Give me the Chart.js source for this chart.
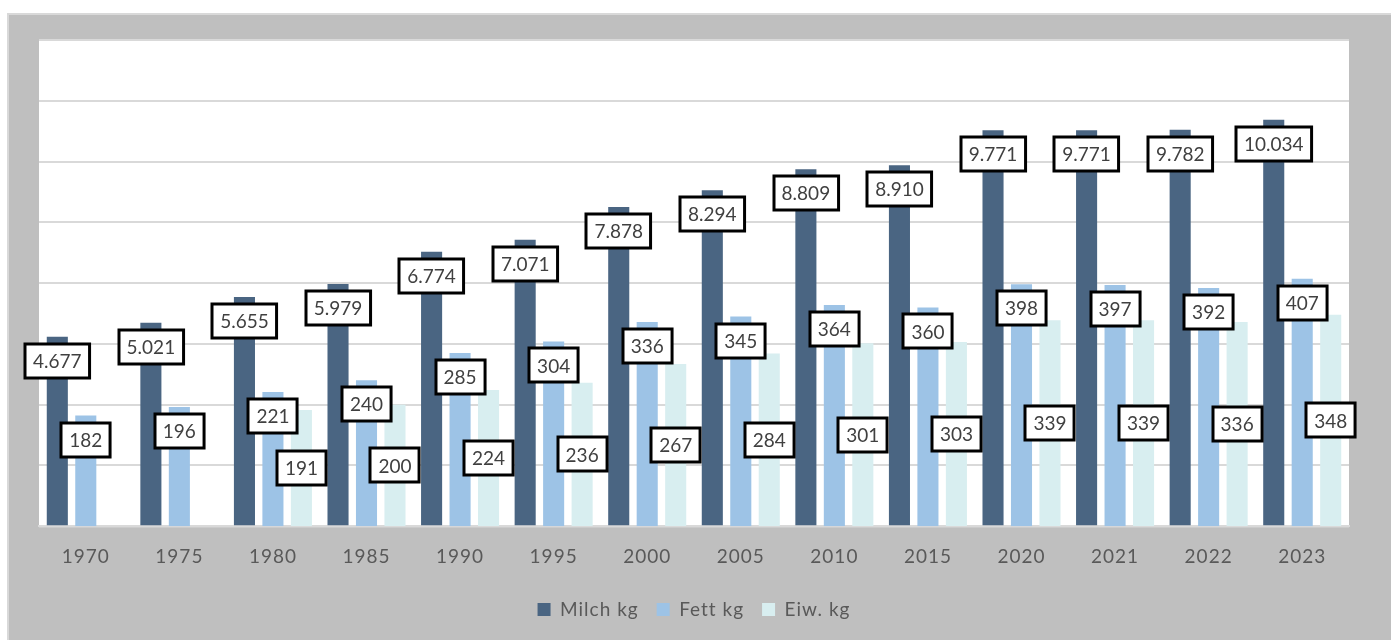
<!DOCTYPE html>
<html lang="de">
<head>
<meta charset="UTF-8">
<title>Milchleistung</title>
<script src="https://cdn.jsdelivr.net/npm/chart.js@4.4.1/dist/chart.umd.min.js"></script>
<style>
  body { margin: 0; background: #fff; }
  #frame {
    position: absolute; left: 7px; top: 13px;
    width: 1382px; height: 625px;
    background: #bfbfbf;
    border-top: 2px solid #d9d9d9;
    border-left: 2px solid #d9d9d9;
  }
</style>
</head>
<body>
<div id="frame"><canvas id="milkChart" width="1382" height="625"></canvas></div>
<script>
// Jahre und Werte je Kuh
const years = ['1970', '1975', '1980', '1985', '1990', '1995', '2000', '2005', '2010', '2015', '2020', '2021', '2022', '2023'];
const milch = [4677, 5021, 5655, 5979, 6774, 7071, 7878, 8294, 8809, 8910, 9771, 9771, 9782, 10034];
const fett = [182, 196, 221, 240, 285, 304, 336, 345, 364, 360, 398, 397, 392, 407];
const eiweiss = [null, null, 191, 200, 224, 236, 267, 284, 301, 303, 339, 339, 336, 348];

// German thousands separator
function fmt(v) {
    return String(v).replace(/\B(?=(\d{3})+(?!\d))/g, '.');
}

// white plot area on the gray frame + a bit of letter spacing for axis/legend text
const plotBackground = {
    id: 'plotBackground',
    beforeUpdate(chart) {
        chart.ctx.letterSpacing = '1px';
    },
    beforeDraw(chart) {
        const { ctx, chartArea } = chart;
        ctx.letterSpacing = '1px';
        ctx.save();
        ctx.fillStyle = '#ffffff';
        ctx.fillRect(chartArea.left, chartArea.top - 1, chartArea.right - chartArea.left, chartArea.bottom - chartArea.top + 2);
        ctx.restore();
    }
};

// boxed data labels, like the Excel ones
const boxLabels = {
    id: 'boxLabels',
    afterDatasetsDraw(chart) {
        const ctx = chart.ctx;
        ctx.save();
        ctx.letterSpacing = '0px';
        ctx.font = '19px Lato';
        ctx.textAlign = 'center';
        ctx.textBaseline = 'middle';
        chart.data.datasets.forEach((ds, i) => {
            const meta = chart.getDatasetMeta(i);
            meta.data.forEach((bar, j) => {
                const v = ds.data[j];
                if (v == null) return;
                const txt = fmt(v);
                const w = ctx.measureText(txt).width + 16;
                const h = 34;
                const cy = ds.labelPos === 'center' ? (bar.y + bar.base) / 2 : bar.y + 7 + h / 2;
                const x0 = Math.round(bar.x - w / 2);
                const y0 = Math.round(cy - h / 2);
                ctx.fillStyle = '#ffffff';
                ctx.fillRect(x0, y0, w, h);
                ctx.lineWidth = 3;
                ctx.strokeStyle = '#000000';
                ctx.strokeRect(x0, y0, w, h);
                ctx.fillStyle = '#404040';
                ctx.fillText(txt, bar.x, cy + 1);
            });
        });
        ctx.restore();
    }
};

const ctx = document.getElementById('milkChart').getContext('2d');
const chart = new Chart(ctx, {
    type: 'bar',
    data: {
        labels: years,
        datasets: [
            { label: 'Milch kg', data: milch, backgroundColor: '#4a6582', yAxisID: 'y', labelPos: 'end' },
            { label: 'Fett kg', data: fett, backgroundColor: '#9dc3e6', yAxisID: 'y1', labelPos: 'end' },
            { label: 'Eiw. kg', data: eiweiss, backgroundColor: '#d8eef0', yAxisID: 'y1', labelPos: 'center' }
        ]
    },
    options: {
        responsive: false,
        animation: false,
        categoryPercentage: 0.913,
        barPercentage: 0.74,
        borderWidth: 0,
        layout: { padding: { left: 30, right: 42, top: 25, bottom: 11 } },
        scales: {
            x: {
                grid: { display: false, drawTicks: false },
                border: { display: true, color: '#d9d9d9', width: 2 },
                ticks: { color: '#595959', font: { family: 'Lato', size: 19 }, padding: 19 },
                // legend padding got bigger, give that space back here
                afterFit: function (scale) { scale.height -= 5; }
            },
            y: {
                min: 0, max: 12000,
                ticks: { display: false, stepSize: 1500 },
                grid: { color: '#d9d9d9', lineWidth: 2, drawTicks: false },
                border: { display: false }
            },
            y1: {
                display: false,
                min: 0, max: 800
            }
        },
        plugins: {
            legend: {
                position: 'bottom',
                labels: {
                    color: '#595959',
                    font: { family: 'Lato', size: 19 },
                    boxWidth: 13,
                    boxHeight: 13,
                    padding: 18
                }
            },
            tooltip: { enabled: false }
        }
    },
    plugins: [plotBackground, boxLabels]
});
</script>
</body>
</html>
